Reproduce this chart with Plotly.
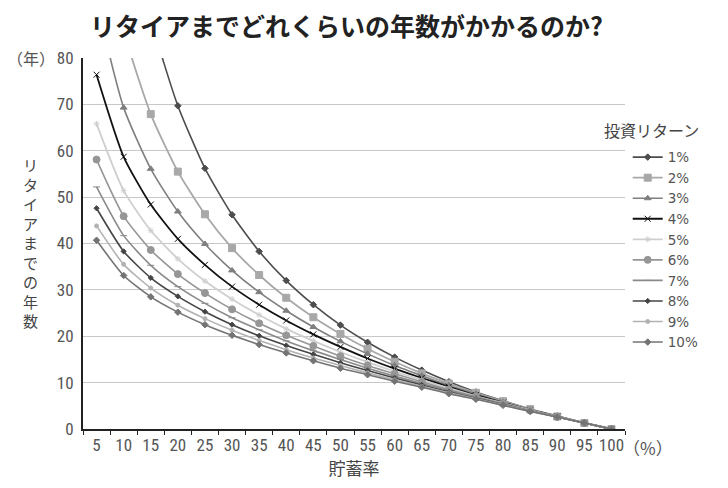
import plotly.graph_objects as go

savings_rate = [5, 10, 15, 20, 25, 30, 35, 40, 45, 50, 55, 60, 65, 70, 75, 80, 85, 90, 95, 100]
series_names = ["1%", "2%", "3%", "4%", "5%", "6%", "7%", "8%", "9%", "10%"]

years_1 = [175.8, 118.5, 88.7, 69.7, 56.2, 46.2, 38.3, 32.0, 26.8, 22.4, 18.7, 15.5, 12.7, 10.2, 8.0, 6.1, 4.3, 2.8, 1.3, 0]
years_2 = [118.7, 86.1, 67.9, 55.5, 46.3, 39.0, 33.2, 28.3, 24.1, 20.5, 17.3, 14.5, 12.0, 9.8, 7.8, 6.0, 4.3, 2.7, 1.3, 0]
years_3 = [92.2, 69.3, 56.1, 46.9, 39.9, 34.2, 29.5, 25.5, 22.0, 18.9, 16.2, 13.7, 11.5, 9.4, 7.6, 5.8, 4.2, 2.7, 1.3, 0]
years_4 = [76.4, 58.7, 48.4, 41.0, 35.4, 30.7, 26.8, 23.4, 20.4, 17.7, 15.2, 13.0, 11.0, 9.1, 7.3, 5.7, 4.1, 2.7, 1.3, 0]
years_5 = [65.8, 51.4, 42.8, 36.7, 31.9, 28.0, 24.6, 21.6, 19.0, 16.6, 14.4, 12.4, 10.6, 8.8, 7.1, 5.6, 4.1, 2.7, 1.3, 0]
years_6 = [58.1, 45.9, 38.6, 33.4, 29.3, 25.8, 22.8, 20.2, 17.9, 15.7, 13.7, 11.9, 10.2, 8.5, 7.0, 5.5, 4.0, 2.6, 1.3, 0]
years_7 = [52.2, 41.7, 35.3, 30.7, 27.1, 24.0, 21.4, 19.0, 16.9, 15.0, 13.1, 11.4, 9.8, 8.3, 6.8, 5.4, 4.0, 2.6, 1.3, 0]
years_8 = [47.6, 38.3, 32.6, 28.6, 25.3, 22.5, 20.1, 18.0, 16.1, 14.3, 12.6, 11.0, 9.5, 8.0, 6.6, 5.3, 3.9, 2.6, 1.3, 0]
years_9 = [43.8, 35.5, 30.4, 26.7, 23.8, 21.3, 19.1, 17.1, 15.3, 13.7, 12.1, 10.6, 9.2, 7.8, 6.5, 5.2, 3.9, 2.6, 1.3, 0]
years_10 = [40.7, 33.1, 28.5, 25.2, 22.5, 20.2, 18.2, 16.4, 14.7, 13.1, 11.7, 10.3, 9.0, 7.6, 6.4, 5.1, 3.8, 2.6, 1.3, 0]

all_years = [years_1, years_2, years_3, years_4, years_5, years_6, years_7, years_8, years_9, years_10]

styles = [
    dict(color="#4d4d4d", symbol="diamond", size=5, width=1.6),
    dict(color="#a8a8a8", symbol="square", size=7, width=1.8),
    dict(color="#7f7f7f", symbol="triangle-up", size=6, width=1.6),
    dict(color="#111111", symbol="x-thin", size=6, width=1.8),
    dict(color="#cfcfcf", symbol="asterisk-open", size=5, width=1.8),
    dict(color="#969696", symbol="circle", size=7, width=1.6),
    dict(color="#8a8a8a", symbol="line-ew-open", size=5, width=1.6),
    dict(color="#454545", symbol="diamond", size=4, width=1.6),
    dict(color="#b2b2b2", symbol="circle", size=4, width=1.6),
    dict(color="#747474", symbol="diamond", size=5, width=1.6),
]

FONT = "Noto Sans CJK JP, Noto Sans, sans-serif"
TICKFONT = "Liberation Sans Narrow, Roboto Condensed, Liberation Sans, sans-serif"
LEGFONT = "DejaVu Sans, Liberation Sans, sans-serif"

fig = go.Figure()
for name, ys, st in zip(series_names, all_years, styles):
    fig.add_trace(go.Scatter(
        x=savings_rate, y=ys, name=name, mode="lines+markers",
        line=dict(color=st["color"], width=st["width"], shape="spline", smoothing=0.6),
        marker=dict(symbol=st["symbol"], size=st["size"], color=st["color"],
                    line=dict(color=st["color"], width=1)),
    ))

fig.update_layout(
    width=720, height=480,
    margin=dict(l=75, r=103, t=50, b=59, autoexpand=False),
    paper_bgcolor="white", plot_bgcolor="white",
    showlegend=True,
    legend=dict(x=1.005, xanchor="left", y=0.774, yanchor="top",
                font=dict(family=LEGFONT, size=13.5, color="#555555"),
                bgcolor="rgba(0,0,0,0)", tracegroupgap=0, itemwidth=30),
    xaxis=dict(range=[2.5, 102.5], showgrid=False, zeroline=False,
               showline=True, linecolor="#222222", linewidth=2,
               tickmode="array", tickvals=savings_rate, ticktext=[str(v) for v in savings_rate],
               ticks="", tickfont=dict(family=TICKFONT, size=17, color="#555555"),
               minor=dict(tickmode="linear", tick0=2.5, dtick=5, ticks="outside",
                          ticklen=4, tickcolor="#222222", tickwidth=1, showgrid=False),
               title=dict(text="貯蓄率", font=dict(family=FONT, size=17, color="#444444"), standoff=4),
               fixedrange=True),
    yaxis=dict(range=[0, 80], dtick=10, showgrid=True, gridcolor="#c8c8c8", gridwidth=1.2,
               zeroline=False, showline=True, linecolor="#222222", linewidth=2,
               ticks="", tickfont=dict(family=TICKFONT, size=17, color="#555555"),
               ticklabelstandoff=4, fixedrange=True),
    annotations=[
        dict(text="<b>リタイアまでどれくらいの年数がかかるのか?</b>", xref="paper", yref="paper",
             x=0.486, y=1.0, yshift=33, xanchor="center", yanchor="middle", showarrow=False,
             borderpad=0, font=dict(family=FONT, size=25, color="#222222")),
        dict(text="（年）", xref="paper", yref="paper", x=0, xshift=-26, y=1.0,
             xanchor="right", yanchor="middle", showarrow=False,
             font=dict(family=FONT, size=16, color="#555555")),
        dict(text="<br>".join(list("リタイアまでの年数")), xref="paper", yref="paper",
             x=0, xshift=-53, y=0.504, xanchor="center", yanchor="middle", showarrow=False,
             font=dict(family=FONT, size=15, color="#444444")),
        dict(text="（%）", xref="paper", yref="paper", x=1.0, xshift=-4, y=0, yshift=-18,
             xanchor="left", yanchor="middle", showarrow=False,
             font=dict(family=FONT, size=17, color="#555555")),
        dict(text="投資リターン", xref="paper", yref="paper", x=1.0, xshift=-23, y=0.806,
             xanchor="left", yanchor="middle", showarrow=False,
             font=dict(family=FONT, size=16, color="#444444")),
    ],
)

fig.write_html("out.html")
